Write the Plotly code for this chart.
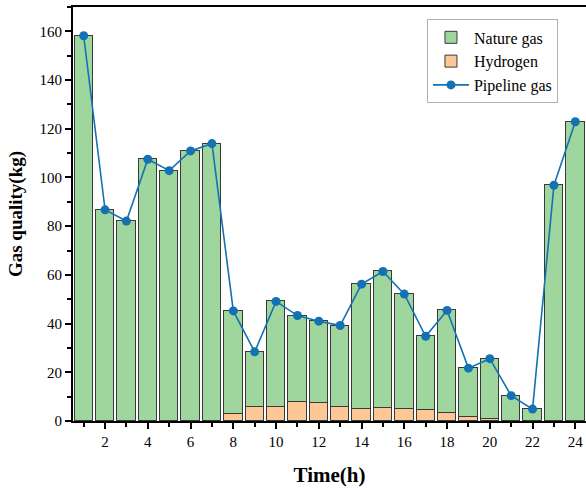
import plotly.graph_objects as go

hours = list(range(1, 25))
nature_gas = [158.2, 86.7, 82.1, 107.5, 102.8, 110.9, 113.7, 42.5, 22.8, 43.3, 35.5, 33.5,
              33.4, 51.3, 56.1, 47.0, 30.3, 42.1, 20.1, 24.9, 10.4, 4.9, 96.8, 122.9]
hydrogen = [0, 0, 0, 0, 0, 0, 0.2, 2.7, 5.6, 5.8, 7.8, 7.5,
            5.8, 4.9, 5.3, 5.1, 4.5, 3.3, 1.6, 0.7, 0, 0, 0, 0]
pipeline_gas = [158.2, 86.7, 82.1, 107.5, 102.8, 110.9, 113.9, 45.2, 28.4, 49.1, 43.3, 41.0,
                39.2, 56.2, 61.4, 52.1, 34.8, 45.4, 21.7, 25.6, 10.4, 4.9, 96.8, 122.9]

FONT = "Liberation Serif, Times New Roman, serif"

fig = go.Figure()
fig.add_trace(go.Bar(x=hours, y=hydrogen, name="Hydrogen", width=0.86,
                     marker=dict(color="#fdc896", line=dict(color="#3a3a3a", width=1)),
                     legendrank=2))
fig.add_trace(go.Bar(x=hours, y=nature_gas, name="Nature gas", width=0.86,
                     marker=dict(color="#9fd69e", line=dict(color="#3a3a3a", width=1)),
                     legendrank=1))
fig.add_trace(go.Scatter(x=hours, y=pipeline_gas, name="Pipeline gas", mode="lines+markers",
                         line=dict(color="#1471b4", width=1.6),
                         marker=dict(color="#1471b4", size=9),
                         legendrank=3))

fig.update_layout(
    width=586, height=490,
    margin=dict(l=73, r=0, t=7, b=69, autoexpand=False),
    barmode="stack", bargap=0,
    plot_bgcolor="white", paper_bgcolor="white",
    font=dict(family=FONT, size=15, color="black"),
    showlegend=True,
    legend=dict(x=0.69, y=0.97, xanchor="left", yanchor="top",
                bordercolor="#b0b0b0", borderwidth=1, bgcolor="white",
                traceorder="normal", font=dict(family=FONT, size=16),
                tracegroupgap=0, itemwidth=36),
)
fig.update_xaxes(
    range=[0.5, 24.5], tickmode="array", tickvals=list(range(2, 25, 2)),
    ticks="outside", ticklen=6, tickwidth=1.5, tickcolor="black",
    showline=True, linecolor="black", linewidth=2, mirror=True,
    showgrid=False, zeroline=False, automargin=False,
    minor=dict(tickvals=list(range(1, 25, 2)), ticks="outside", ticklen=4, tickwidth=1.5, tickcolor="black"),
    title=dict(text="<b>Time(h)</b>", font=dict(family=FONT, size=21), standoff=18),
    tickfont=dict(family=FONT, size=15),
)
fig.update_yaxes(
    range=[0, 170], tickmode="array", tickvals=list(range(0, 161, 20)),
    ticks="outside", ticklen=6, tickwidth=1.5, tickcolor="black",
    showline=True, linecolor="black", linewidth=2, mirror=False,
    showgrid=False, zeroline=False, automargin=False,
    minor=dict(tickvals=list(range(10, 171, 20)), ticks="outside", ticklen=4, tickwidth=1.5, tickcolor="black"),
    title=dict(text="<b>Gas quality(kg)</b>", font=dict(family=FONT, size=19), standoff=12),
    tickfont=dict(family=FONT, size=15),
)

fig.write_html("out.html", config={"displayModeBar": False},
               post_script="document.body.style.margin='0px';document.body.style.overflow='hidden';")
